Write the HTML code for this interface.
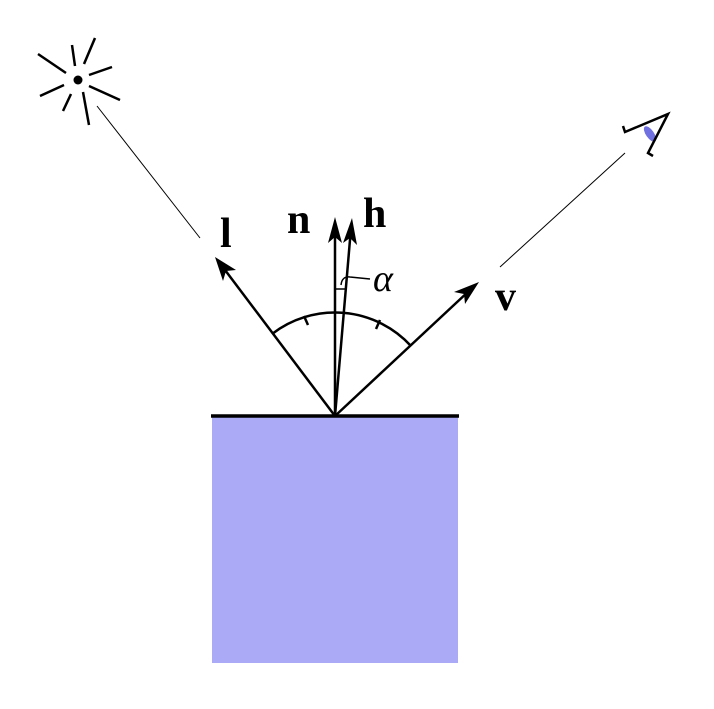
<!DOCTYPE html>
<html><head><style>body{margin:0;background:#fff}</style></head><body>
<svg width="714" height="704" viewBox="0 0 714 704" xmlns="http://www.w3.org/2000/svg">
<rect x="212" y="416" width="246" height="247" fill="#aaaaf7"/>
<line x1="211" y1="416" x2="459" y2="416" stroke="#000" stroke-width="3.5"/>
<g stroke="#000" stroke-width="2.5" fill="none">
<line x1="335" y1="416" x2="222" y2="266"/>
<line x1="335" y1="416" x2="335" y2="228"/>
<line x1="335" y1="416" x2="351" y2="228"/>
<line x1="335" y1="416" x2="470" y2="290"/>
<path d="M272 334 A103 103 0 0 1 411 346"/>
<line x1="304" y1="316" x2="308" y2="325"/>
<line x1="380" y1="320" x2="376" y2="329"/>
</g>
<g stroke="#000" stroke-width="1.5" fill="none">
<polyline points="335,289 345,289"/>
<path d="M341 285 Q342 276 350 277 Q360 278 370 279"/>
</g>
<g fill="#000">
<polygon points="215,257 236,270 226,271 223,281"/>
<polygon points="335,217 342,243 335,237 328,243"/>
<polygon points="352,218 357,245 350,238 343,243"/>
<polygon points="479,282 465,304 464,294 454,292"/>
</g>
<g font-family="Liberation Serif, serif" font-weight="bold" font-size="42">
<text x="220" y="247">l</text>
<text x="287" y="233">n</text>
<text x="363" y="227">h</text>
<text x="495" y="310">v</text>
</g>
<text x="373" y="291" font-family="Liberation Serif, serif" font-style="italic" font-size="38">α</text>
<line x1="97" y1="106" x2="200" y2="238" stroke="#000" stroke-width="1"/>
<line x1="500" y1="267" x2="625" y2="153" stroke="#000" stroke-width="1"/>
<g stroke="#000" stroke-width="2.5">
<line x1="38" y1="54" x2="66" y2="73"/>
<line x1="72" y1="45" x2="75" y2="66"/>
<line x1="95" y1="38" x2="84" y2="64"/>
<line x1="89" y1="75" x2="112" y2="67"/>
<line x1="89" y1="86" x2="120" y2="100"/>
<line x1="83" y1="92" x2="89" y2="125"/>
<line x1="71" y1="94" x2="63" y2="111"/>
<line x1="64" y1="85" x2="40" y2="96"/>
</g>
<circle cx="78" cy="80" r="4.5" fill="#000"/>
<ellipse cx="650" cy="134" rx="4" ry="9" transform="rotate(-35 650 134)" fill="#7070e0"/>
<polyline points="623,126 625,132 668,114 648,153 653,156" fill="none" stroke="#000" stroke-width="2.5"/>
</svg>
</body></html>
